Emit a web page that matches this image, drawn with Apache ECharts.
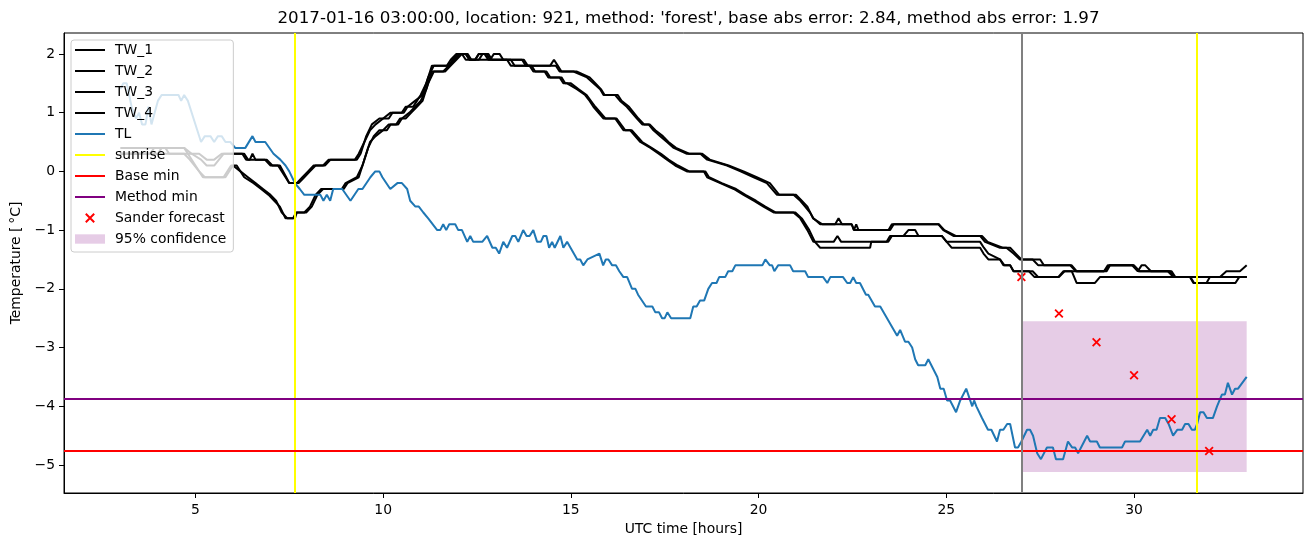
<!DOCTYPE html>
<html>
<head>
<meta charset="utf-8">
<script src="https://cdn.jsdelivr.net/npm/echarts@6/dist/echarts.min.js"></script>
<style>html,body{margin:0;padding:0;background:#fff}#c{width:1313px;height:547px}</style>
</head>
<body>
<div id="c"></div>
<script>
const titleText = "2017-01-16 03:00:00, location: 921, method: 'forest', base abs error: 2.84, method abs error: 1.97";
const xTicks = [5, 10, 15, 20, 25, 30];
const yTicks = [-5, -4, -3, -2, -1, 0, 1, 2];

const tw1 = [[3.0,0.4],[4.7,0.4],[4.8,0.3],[5.1,0.3],[5.3,0.2],[5.5,0.2],[5.7,0.3],[6.3,0.3],[6.4,0.2],[6.9,0.2],[7.05,0.1],[7.25,0.1],[7.42,-0.1],[7.5,-0.2],[7.7,-0.2],[7.85,-0.1],[8.0,0.0],[8.15,0.1],[8.4,0.1],[8.55,0.2],[9.3,0.2],[9.4,0.3],[9.55,0.6],[9.7,0.8],[9.9,0.9],[10.15,0.9],[10.25,1.0],[10.5,1.0],[10.6,1.1],[10.8,1.1],[10.9,1.2],[11.0,1.3],[11.15,1.5],[11.3,1.8],[11.75,1.8],[11.85,1.9],[12.0,2.0],[12.25,2.0],[12.35,1.9],[12.45,1.9],[12.55,2.0],[12.75,2.0],[12.85,1.9],[12.95,2.0],[13.1,2.0],[13.2,1.9],[13.75,1.9],[13.85,1.8],[14.45,1.8],[14.55,1.9],[14.65,1.8],[14.75,1.7],[15.07,1.7],[15.43,1.6],[15.78,1.4],[15.87,1.3],[16.18,1.3],[16.31,1.2],[16.49,1.1],[16.76,0.9],[16.9,0.8],[17.07,0.8],[17.2,0.7],[17.38,0.6],[17.56,0.5],[17.74,0.4],[18.09,0.3],[18.45,0.3],[18.63,0.2],[19.16,0.1],[19.52,0.0],[19.87,-0.1],[20.22,-0.2],[20.49,-0.4],[20.93,-0.4],[21.11,-0.5],[21.24,-0.6],[21.37,-0.7],[21.46,-0.8],[21.64,-0.9],[22.04,-0.9],[22.13,-0.8],[22.22,-0.9],[22.48,-0.9],[22.54,-1.0],[23.46,-1.0],[23.55,-0.9],[24.79,-0.9],[24.92,-1.0],[25.19,-1.1],[25.9,-1.1],[26.03,-1.2],[26.43,-1.3],[26.6,-1.3],[26.79,-1.4],[26.96,-1.5],[27.3,-1.5],[27.45,-1.6],[28.34,-1.6],[28.47,-1.7],[29.27,-1.7],[29.36,-1.6],[29.98,-1.6],[30.11,-1.7],[30.96,-1.7],[31.05,-1.8],[33.0,-1.8]];

const tw2 = [[3.0,0.3],[4.0,0.3],[4.1,0.4],[4.7,0.4],[4.9,0.3],[5.15,0.2],[5.3,0.1],[5.5,0.1],[5.75,0.3],[6.25,0.3],[6.35,0.2],[6.45,0.2],[6.52,0.3],[6.6,0.2],[6.85,0.2],[7.0,0.1],[7.2,0.1],[7.4,-0.1],[7.5,-0.2],[7.75,-0.2],[7.9,-0.1],[8.05,0.0],[8.2,0.1],[8.45,0.1],[8.6,0.2],[9.25,0.2],[9.35,0.3],[9.5,0.5],[9.65,0.7],[9.8,0.8],[10.0,0.9],[10.2,1.0],[10.55,1.0],[10.65,1.1],[10.85,1.2],[11.05,1.3],[11.2,1.6],[11.35,1.8],[11.7,1.8],[11.8,1.9],[11.95,2.0],[12.1,2.0],[12.2,1.9],[12.55,1.9],[12.65,2.0],[12.8,2.0],[12.9,1.9],[13.7,1.9],[13.8,1.8],[14.6,1.8],[14.7,1.7],[15.15,1.7],[15.5,1.6],[15.65,1.5],[15.8,1.4],[15.9,1.3],[16.25,1.3],[16.35,1.2],[16.55,1.1],[16.8,0.9],[16.95,0.8],[17.1,0.8],[17.25,0.7],[17.45,0.6],[17.6,0.5],[17.8,0.4],[18.15,0.3],[18.5,0.3],[18.7,0.2],[19.2,0.1],[19.6,0.0],[19.95,-0.1],[20.3,-0.2],[20.55,-0.4],[21.0,-0.4],[21.15,-0.5],[21.3,-0.6],[21.45,-0.8],[21.7,-0.9],[22.48,-0.9],[22.54,-1.0],[22.6,-0.9],[22.66,-1.0],[23.5,-1.0],[23.6,-0.9],[24.8,-0.9],[24.95,-1.0],[25.25,-1.1],[25.95,-1.1],[26.1,-1.2],[26.5,-1.3],[26.7,-1.3],[26.85,-1.4],[27.0,-1.5],[27.5,-1.5],[27.6,-1.6],[28.3,-1.6],[28.45,-1.7],[29.2,-1.7],[29.35,-1.6],[29.95,-1.6],[30.1,-1.7],[30.2,-1.6],[30.3,-1.6],[30.45,-1.7],[31.0,-1.7],[31.1,-1.8],[33.0,-1.8]];

const tw3 = [[3.0,0.3],[4.7,0.3],[4.85,0.2],[5.1,0.0],[5.25,-0.1],[5.8,-0.1],[6.0,0.1],[6.2,0.0],[6.4,-0.1],[6.6,-0.2],[6.8,-0.3],[7.0,-0.4],[7.15,-0.5],[7.3,-0.7],[7.45,-0.8],[7.65,-0.8],[7.7,-0.7],[7.95,-0.7],[8.1,-0.6],[8.25,-0.4],[8.4,-0.3],[8.9,-0.3],[9.0,-0.2],[9.3,-0.1],[9.45,0.1],[9.6,0.4],[9.75,0.6],[9.9,0.7],[10.1,0.7],[10.2,0.8],[10.4,0.8],[10.5,0.9],[10.7,1.0],[10.85,1.1],[11.0,1.2],[11.15,1.4],[11.3,1.7],[11.6,1.7],[11.75,1.8],[11.9,1.9],[12.05,2.0],[12.2,2.0],[12.3,1.9],[13.4,1.9],[13.5,1.8],[13.9,1.8],[14.0,1.7],[14.3,1.7],[14.4,1.6],[14.7,1.6],[14.8,1.5],[14.9,1.5],[15.16,1.4],[15.38,1.3],[15.5,1.2],[15.6,1.1],[15.87,0.9],[16.18,0.9],[16.4,0.7],[16.58,0.7],[16.85,0.5],[17.12,0.4],[17.34,0.3],[17.56,0.2],[17.78,0.1],[18.09,0.0],[18.54,0.0],[18.63,-0.1],[18.98,-0.2],[19.34,-0.3],[19.6,-0.4],[19.87,-0.5],[20.13,-0.6],[20.4,-0.7],[20.93,-0.7],[21.11,-0.8],[21.3,-1.0],[21.46,-1.2],[22.0,-1.2],[22.1,-1.1],[22.2,-1.2],[23.41,-1.2],[23.5,-1.1],[23.86,-1.1],[23.99,-1.0],[24.17,-1.0],[24.26,-1.1],[24.88,-1.1],[25.01,-1.2],[25.9,-1.2],[26.0,-1.3],[26.12,-1.4],[26.43,-1.5],[26.55,-1.6],[26.7,-1.6],[26.79,-1.7],[27.3,-1.7],[27.45,-1.8],[27.98,-1.8],[28.12,-1.7],[28.34,-1.7],[28.47,-1.9],[28.96,-1.9],[29.09,-1.8],[31.49,-1.8],[31.58,-1.9],[31.93,-1.9],[32.02,-1.8],[32.29,-1.8],[32.46,-1.7],[32.82,-1.7],[33.0,-1.6]];

const tw4 = [[3.0,0.3],[3.8,0.3],[3.9,0.4],[4.2,0.4],[4.3,0.3],[4.8,0.3],[5.0,0.1],[5.2,-0.1],[5.75,-0.1],[5.95,0.1],[6.1,0.1],[6.3,-0.1],[6.55,-0.2],[6.75,-0.3],[6.95,-0.4],[7.1,-0.5],[7.25,-0.6],[7.4,-0.8],[7.6,-0.8],[7.68,-0.7],[7.9,-0.7],[8.05,-0.6],[8.2,-0.4],[8.35,-0.3],[8.95,-0.3],[9.05,-0.2],[9.35,-0.1],[9.5,0.2],[9.65,0.5],[9.8,0.6],[10.0,0.7],[10.15,0.8],[10.35,0.8],[10.45,0.9],[10.6,0.9],[10.75,1.0],[10.9,1.1],[11.05,1.2],[11.2,1.5],[11.35,1.7],[11.65,1.7],[11.8,1.8],[11.95,1.9],[12.1,2.0],[12.2,2.0],[12.3,1.9],[12.45,1.9],[12.55,2.0],[12.7,2.0],[12.8,1.9],[13.3,1.9],[13.4,1.8],[13.95,1.8],[14.05,1.7],[14.35,1.7],[14.45,1.6],[14.75,1.6],[14.85,1.5],[15.0,1.5],[15.2,1.4],[15.42,1.3],[15.65,1.1],[15.92,0.9],[16.22,0.9],[16.45,0.7],[16.62,0.7],[16.9,0.5],[17.15,0.4],[17.4,0.3],[17.6,0.2],[17.85,0.1],[18.15,0.0],[18.58,0.0],[18.68,-0.1],[19.02,-0.2],[19.4,-0.3],[19.65,-0.4],[19.93,-0.5],[20.18,-0.6],[20.45,-0.7],[20.98,-0.7],[21.15,-0.8],[21.35,-1.0],[21.5,-1.2],[21.64,-1.3],[22.97,-1.3],[23.0,-1.2],[23.45,-1.2],[23.55,-1.1],[24.88,-1.1],[25.01,-1.2],[25.14,-1.3],[25.9,-1.3],[25.99,-1.4],[26.12,-1.5],[26.43,-1.5],[26.52,-1.6],[26.7,-1.6],[26.79,-1.7],[27.2,-1.7],[27.35,-1.8],[28.0,-1.8],[28.15,-1.7],[29.2,-1.7],[29.3,-1.6],[30.0,-1.6],[30.15,-1.7],[30.9,-1.7],[31.05,-1.8],[31.5,-1.8],[31.6,-1.9],[32.7,-1.9],[32.8,-1.8],[33.0,-1.8]];

const tlHours = [3.00,3.08,3.17,3.30,3.42,3.50,3.58,3.67,3.75,3.83,4.00,4.10,4.55,4.62,4.70,4.80,5.05,5.15,5.25,5.40,5.50,5.60,5.70,5.80,5.93,6.06,6.33,6.52,6.60,6.86,7.08,7.26,7.40,7.50,7.65,7.78,7.90,8.20,8.33,8.41,8.50,8.59,8.67,8.91,9.13,9.34,9.45,9.66,9.79,9.90,9.98,10.19,10.38,10.50,10.64,10.72,10.86,10.95,11.07,11.20,11.44,11.52,11.60,11.68,11.76,11.92,12.00,12.10,12.24,12.32,12.40,12.64,12.77,12.91,13.00,13.09,13.20,13.30,13.44,13.52,13.60,13.73,13.82,13.90,14.00,14.10,14.20,14.27,14.35,14.42,14.50,14.57,14.72,14.80,14.90,15.17,15.25,15.33,15.44,15.76,15.86,15.93,16.00,16.10,16.20,16.29,16.40,16.50,16.63,16.72,16.79,17.00,17.17,17.25,17.35,17.43,17.50,17.57,17.67,18.18,18.26,18.35,18.44,18.55,18.66,18.76,18.88,18.95,19.11,19.19,19.30,19.38,20.10,20.18,20.30,20.36,20.42,20.52,20.84,20.92,21.24,21.32,21.72,21.83,21.91,22.25,22.36,22.44,22.52,22.60,22.70,22.86,22.92,23.10,23.24,23.69,23.77,23.90,23.99,24.09,24.17,24.25,24.44,24.52,24.76,24.84,24.93,25.02,25.10,25.26,25.37,25.53,25.69,25.74,25.80,25.95,26.11,26.20,26.35,26.43,26.52,26.62,26.70,26.83,26.91,27.00,27.15,27.23,27.31,27.42,27.52,27.68,27.84,27.92,28.11,28.24,28.35,28.43,28.51,28.75,28.83,29.01,29.09,29.68,29.76,30.16,30.35,30.43,30.51,30.60,30.69,30.83,30.92,31.04,31.15,31.28,31.36,31.45,31.54,31.62,31.68,31.76,31.85,31.94,32.10,32.21,32.34,32.42,32.50,32.61,32.69,32.77,33.00];
const tlValues = [1.4,1.5,1.5,1.1,0.9,1.0,0.8,0.8,1.1,0.8,1.2,1.3,1.3,1.2,1.3,1.2,0.7,0.5,0.6,0.6,0.5,0.6,0.6,0.5,0.5,0.4,0.4,0.6,0.5,0.5,0.3,0.2,0.1,0.0,-0.2,-0.3,-0.4,-0.4,-0.4,-0.5,-0.4,-0.5,-0.3,-0.3,-0.5,-0.3,-0.3,-0.1,0.0,0.0,-0.1,-0.3,-0.2,-0.2,-0.3,-0.5,-0.6,-0.6,-0.7,-0.8,-1.0,-1.0,-0.9,-1.0,-0.9,-0.9,-1.0,-1.0,-1.2,-1.1,-1.2,-1.2,-1.1,-1.3,-1.3,-1.4,-1.2,-1.3,-1.1,-1.1,-1.2,-1.0,-1.1,-1.1,-1.0,-1.2,-1.2,-1.1,-1.1,-1.3,-1.2,-1.3,-1.1,-1.3,-1.2,-1.5,-1.5,-1.6,-1.5,-1.4,-1.6,-1.5,-1.5,-1.6,-1.6,-1.7,-1.8,-1.8,-2.0,-2.0,-2.1,-2.3,-2.3,-2.4,-2.4,-2.5,-2.5,-2.4,-2.5,-2.5,-2.3,-2.3,-2.2,-2.2,-2.0,-1.9,-1.9,-1.8,-1.8,-1.7,-1.7,-1.6,-1.6,-1.5,-1.6,-1.6,-1.7,-1.6,-1.6,-1.7,-1.7,-1.8,-1.8,-1.9,-1.8,-1.8,-1.9,-1.9,-1.8,-1.9,-1.9,-2.1,-2.1,-2.3,-2.3,-2.8,-2.7,-2.9,-2.9,-3.0,-3.2,-3.3,-3.3,-3.2,-3.5,-3.7,-3.7,-3.9,-3.9,-4.1,-3.9,-3.7,-4.0,-3.9,-4.0,-4.2,-4.4,-4.4,-4.6,-4.4,-4.4,-4.3,-4.3,-4.7,-4.7,-4.6,-4.4,-4.4,-4.5,-4.8,-4.9,-4.7,-4.7,-4.9,-4.9,-4.6,-4.7,-4.7,-4.8,-4.5,-4.6,-4.6,-4.7,-4.7,-4.6,-4.6,-4.4,-4.5,-4.4,-4.4,-4.2,-4.2,-4.3,-4.5,-4.4,-4.4,-4.3,-4.3,-4.4,-4.4,-4.3,-4.1,-4.1,-4.2,-4.2,-4.0,-3.8,-3.8,-3.6,-3.8,-3.7,-3.7,-3.5];

const forecastHours = [27, 28, 29, 30, 31, 32];
const forecastValues = [-1.80, -2.42, -2.91, -3.47, -4.22, -4.76];
const sunriseHours = [7.64, 31.68];
const nowHour = 27.0;
const baseMin = -4.76;
const methodMin = -3.87;
const confidence = {from: 27.0, to: 33.0, low: -5.12, high: -2.55};

const FONT = 'DejaVu Sans';
const minus = v => String(v).replace('-', '\u2212');
const X_PATH = 'M10.1,3.5L18.5,11.9L19.9,10.5L11.5,2.1Z M18.5,2.1L10.1,10.5L11.5,11.9L19.9,3.5Z';
const PAD = 'M0,0L0.01,0L0,0.01Z M30,14L29.99,14L30,13.99Z ';
const lineIcon = 'path://M0,0L30,0L30,2L0,2Z';

const chart = echarts.init(document.getElementById('c'), null, {renderer: 'canvas'});
const twColor = '#000000';
function twSeries(name, data) {
  return {name, type: 'line', data, symbol: 'none', color: twColor,
    lineStyle: {color: twColor, width: 2}, z: 2};
}
function markSeries(name, color, lineData) {
  return {name, type: 'line', data: [], symbol: 'none', color, z: 3,
    markLine: {silent: true, symbol: ['none', 'none'], label: {show: false},
      lineStyle: {color, width: 2, type: 'solid'}, data: lineData}};
}
chart.setOption({
  animation: false,
  backgroundColor: '#fff',
  title: {text: titleText, left: 683.5, top: 5, textAlign: 'center',
    textStyle: {fontFamily: FONT, fontSize: 16.7, fontWeight: 'normal', color: '#000'}},
  grid: {left: 64, right: 10, top: 33, bottom: 54, show: true, borderColor: '#000', borderWidth: 1, backgroundColor: 'transparent'},
  xAxis: {type: 'value', min: 1.5, max: 34.5,
    name: 'UTC time [hours]', nameLocation: 'middle', nameGap: 29,
    nameTextStyle: {fontFamily: FONT, fontSize: 13.9, color: '#000'},
    axisLine: {show: true, onZero: false, lineStyle: {color: '#000', width: 1}},
    axisTick: {show: true, length: 5, inside: false, customValues: xTicks, lineStyle: {color: '#000'}},
    axisLabel: {customValues: xTicks, margin: 10, fontFamily: FONT, fontSize: 13.9, color: '#000', formatter: minus},
    splitLine: {show: false}},
  yAxis: {type: 'value', min: -5.476, max: 2.356,
    name: 'Temperature [\u2009\u00b0C]', nameLocation: 'middle', nameGap: 38, nameRotate: 90,
    nameTextStyle: {fontFamily: FONT, fontSize: 13.9, color: '#000'},
    axisLine: {show: true, onZero: false, lineStyle: {color: '#000', width: 1}},
    axisTick: {show: true, length: 5, inside: false, customValues: yTicks, lineStyle: {color: '#000'}},
    axisLabel: {customValues: yTicks, margin: 9, fontFamily: FONT, fontSize: 13.9, color: '#000', formatter: minus},
    splitLine: {show: false}},
  legend: {
    orient: 'vertical', left: 71, top: 40, selectedMode: false, z: 20,
    itemWidth: 30, itemHeight: 14, itemGap: 7,
    padding: [3, 7, 6, 4],
    backgroundColor: 'rgba(255,255,255,0.8)', borderColor: '#cccccc', borderWidth: 1, borderRadius: 3,
    textStyle: {fontFamily: FONT, fontSize: 13.9, color: '#000', lineHeight: 14, padding: [0, 0, 0, 5]},
    data: [
      {name: 'TW_1', icon: lineIcon, itemStyle: {color: '#000'}},
      {name: 'TW_2', icon: lineIcon, itemStyle: {color: '#000'}},
      {name: 'TW_3', icon: lineIcon, itemStyle: {color: '#000'}},
      {name: 'TW_4', icon: lineIcon, itemStyle: {color: '#000'}},
      {name: 'TL', icon: lineIcon, itemStyle: {color: '#1f77b4'}},
      {name: 'sunrise', icon: lineIcon, itemStyle: {color: '#ffff00'}},
      {name: 'Base min', icon: lineIcon, itemStyle: {color: '#ff0000'}},
      {name: 'Method min', icon: lineIcon, itemStyle: {color: '#800080'}},
      {name: 'Sander forecast', icon: 'path://' + PAD + X_PATH, itemStyle: {color: '#ff0000'}},
      {name: '95% confidence', icon: 'path://M0,2.3L30,2.3L30,11.7L0,11.7Z', itemStyle: {color: 'rgba(128,0,128,0.2)'}}
    ]
  },
  series: [
    {name: '95% confidence', type: 'line', data: [], symbol: 'none', color: 'rgba(128,0,128,0.2)', z: 1,
      markArea: {silent: true, itemStyle: {color: 'rgba(128,0,128,0.2)'},
        data: [[{xAxis: confidence.from, yAxis: confidence.low}, {xAxis: confidence.to, yAxis: confidence.high}]]}},
    twSeries('TW_1', tw1),
    twSeries('TW_2', tw2),
    twSeries('TW_3', tw3),
    twSeries('TW_4', tw4),
    {name: 'TL', type: 'line', data: tlHours.map((h, i) => [h, tlValues[i]]), symbol: 'none', color: '#1f77b4',
      lineStyle: {color: '#1f77b4', width: 2}, z: 2},
    markSeries('sunrise', '#ffff00', sunriseHours.map(h => ({xAxis: h}))),
    markSeries('Base min', '#ff0000', [{yAxis: baseMin}]),
    markSeries('Method min', '#800080', [{yAxis: methodMin}]),
    markSeries('now', '#808080', [{xAxis: nowHour}]),
    {name: 'Sander forecast', type: 'scatter', data: forecastHours.map((h, i) => [h, forecastValues[i]]),
      symbol: 'path://' + X_PATH, symbolSize: 9, color: '#ff0000', itemStyle: {color: '#ff0000', opacity: 1}, z: 4}
  ]
});
</script>
</body>
</html>
